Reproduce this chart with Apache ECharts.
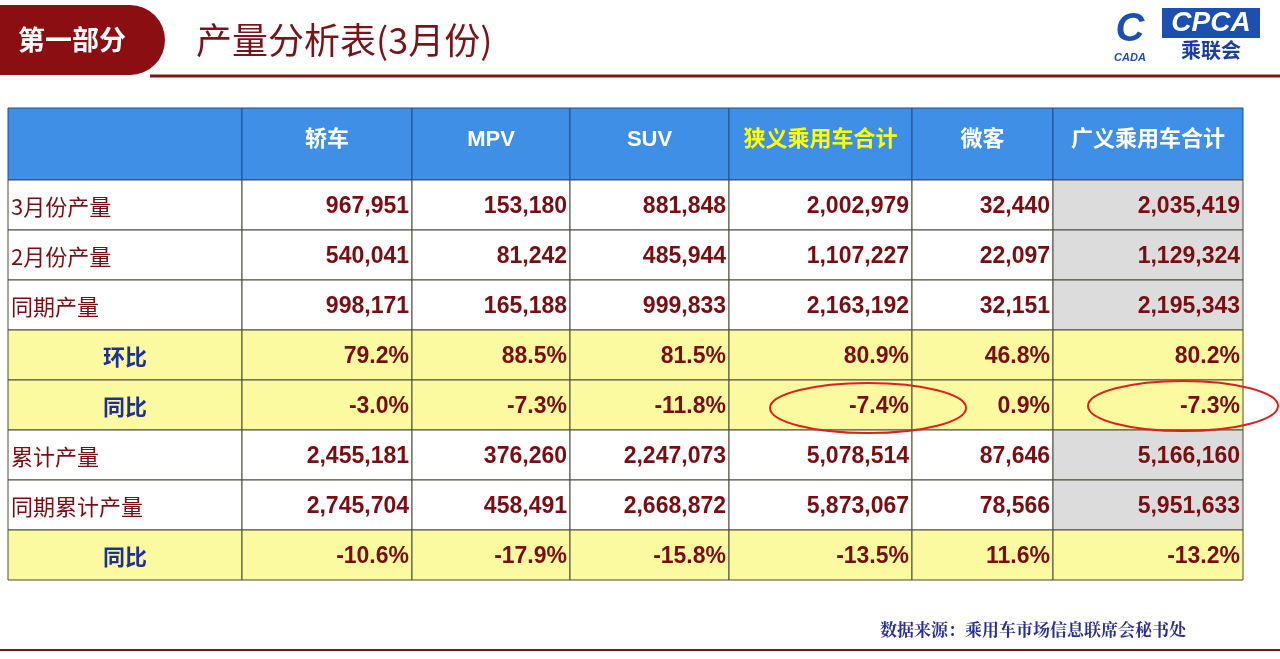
<!DOCTYPE html>
<html><head><meta charset="utf-8">
<script src="https://cdn.jsdelivr.net/npm/echarts@6/dist/echarts.min.js"></script>
<style>html,body{margin:0;padding:0;background:#fff}#c{width:1280px;height:659px}</style>
</head><body><div id="c"></div>
<script>
const headers = ['', '轿车', 'MPV', 'SUV', '狭义乘用车合计', '微客', '广义乘用车合计'];
const rowLabels = ['3月份产量', '2月份产量', '同期产量', '环比', '同比', '累计产量', '同期累计产量', '同比'];
const rowValues = [
  ['967,951', '153,180', '881,848', '2,002,979', '32,440', '2,035,419'],
  ['540,041', '81,242', '485,944', '1,107,227', '22,097', '1,129,324'],
  ['998,171', '165,188', '999,833', '2,163,192', '32,151', '2,195,343'],
  ['79.2%', '88.5%', '81.5%', '80.9%', '46.8%', '80.2%'],
  ['-3.0%', '-7.3%', '-11.8%', '-7.4%', '0.9%', '-7.3%'],
  ['2,455,181', '376,260', '2,247,073', '5,078,514', '87,646', '5,166,160'],
  ['2,745,704', '458,491', '2,668,872', '5,873,067', '78,566', '5,951,633'],
  ['-10.6%', '-17.9%', '-15.8%', '-13.5%', '11.6%', '-13.2%']
];
const yellowRows = [3, 4, 7];
const colEdges = [8, 242, 412, 570, 729, 912, 1053, 1243];
const rowEdges = [108, 180, 230, 280, 330, 380, 430, 480, 530, 580];

const cells = [];
headers.forEach((h, c) => cells.push([c, 0, h]));
rowLabels.forEach((l, r) => {
  cells.push([0, r + 1, l]);
  rowValues[r].forEach((v, c) => cells.push([c + 1, r + 1, v]));
});

const chart = echarts.init(document.getElementById('c'));
chart.setOption({
  animation: false,
  grid: {left: 0, right: 0, top: 0, bottom: 0},
  xAxis: {type: 'value', min: 0, max: 1280, show: false},
  yAxis: {type: 'value', min: 0, max: 659, inverse: true, show: false},
  series: [{
    type: 'custom',
    data: cells,
    z: 2,
    renderItem: function (params, api) {
      const c = api.value(0), r = api.value(1), txt = cells[params.dataIndex][2];
      const p1 = api.coord([colEdges[c], rowEdges[r]]);
      const p2 = api.coord([colEdges[c + 1], rowEdges[r + 1]]);
      const w = p2[0] - p1[0], h = p2[1] - p1[1];
      let fill = '#ffffff', color = '#7a0d12', align = 'right', tx = p2[0] - 3, font = 'bold 23px Arial, "Noto Sans CJK SC", sans-serif';
      const ri = r - 1;
      if (r === 0) {
        fill = '#3f8fe6'; align = 'center'; tx = (p1[0] + p2[0]) / 2;
        color = c === 4 ? '#ffff00' : '#ffffff';
        font = 'bold 22px Arial, "Noto Sans CJK SC", sans-serif';
      } else {
        if (yellowRows.includes(ri)) fill = '#fbfaa0';
        else if (c === 6) fill = '#dcdcdc';
        if (c === 0) {
          font = '22px "Noto Sans CJK SC", sans-serif';
          if (yellowRows.includes(ri)) { color = '#1f2f9a'; align = 'center'; tx = 125; font = 'bold 22px "Noto Sans CJK SC", sans-serif'; }
          else { color = '#7a0d12'; align = 'left'; tx = p1[0] + 3; }
        }
      }
      return {type: 'group', children: [
        {type: 'rect', shape: {x: p1[0], y: p1[1], width: w, height: h},
         style: {fill: fill, stroke: r === 0 ? '#1f4f8f' : '#4a4a3a', lineWidth: 1}},
        {type: 'text', style: {x: tx, y: (p1[1] + p2[1]) / 2 + (r === 0 ? -4 : 2), text: txt, align: align,
          verticalAlign: 'middle', font: font, fill: color}}
      ]};
    }
  }],
  graphic: [
    {type: 'rect', shape: {x: -20, y: 5, width: 185, height: 70, r: [0, 35, 35, 0]}, style: {fill: '#8b0f12'}},
    {type: 'text', style: {x: 72, y: 40, text: '第一部分', align: 'center', verticalAlign: 'middle', font: 'bold 27px "Noto Sans CJK SC", sans-serif', fill: '#fff'}},
    {type: 'text', style: {x: 196, y: 40, text: '产量分析表(3月份)', verticalAlign: 'middle', font: '36px "Noto Sans CJK SC", sans-serif', fill: '#7a1418'}},
    {type: 'line', shape: {x1: 150, y1: 76, x2: 1280, y2: 76}, style: {stroke: '#7a1418', lineWidth: 3}},
    {type: 'rect', shape: {x: 1162, y: 8, width: 98, height: 30}, style: {fill: '#1d4fb0'}},
    {type: 'text', style: {x: 1211, y: 23, text: 'CPCA', align: 'center', verticalAlign: 'middle', font: 'bold italic 28px Arial, sans-serif', fill: '#ffffff'}},
    {type: 'text', style: {x: 1211, y: 50, text: '乘联会', align: 'center', verticalAlign: 'middle', font: 'bold 20px "Noto Sans CJK SC", sans-serif', fill: '#1d3f9a'}},
    {type: 'text', style: {x: 1130, y: 30, text: 'C', align: 'center', verticalAlign: 'middle', font: 'bold italic 40px Arial, sans-serif', fill: '#1d4fb0'}},
    {type: 'text', style: {x: 1130, y: 58, text: 'CADA', align: 'center', verticalAlign: 'middle', font: 'bold italic 11px Arial, sans-serif', fill: '#1d4fb0'}},
    {type: 'ellipse', z: 100, shape: {cx: 868, cy: 408, rx: 98, ry: 25}, style: {fill: 'none', stroke: '#e0201c', lineWidth: 2}},
    {type: 'ellipse', z: 100, shape: {cx: 1183, cy: 406, rx: 95, ry: 25}, style: {fill: 'none', stroke: '#e0201c', lineWidth: 2}},
    {type: 'text', style: {x: 880, y: 630, text: '数据来源：乘用车市场信息联席会秘书处', verticalAlign: 'middle', font: 'bold 17px "Noto Serif CJK SC", "Noto Sans CJK SC", serif', fill: '#2a2f8f'}},
    {type: 'line', shape: {x1: 0, y1: 650, x2: 1280, y2: 650}, style: {stroke: '#7a1418', lineWidth: 2}}
  ]
});
</script></body></html>
